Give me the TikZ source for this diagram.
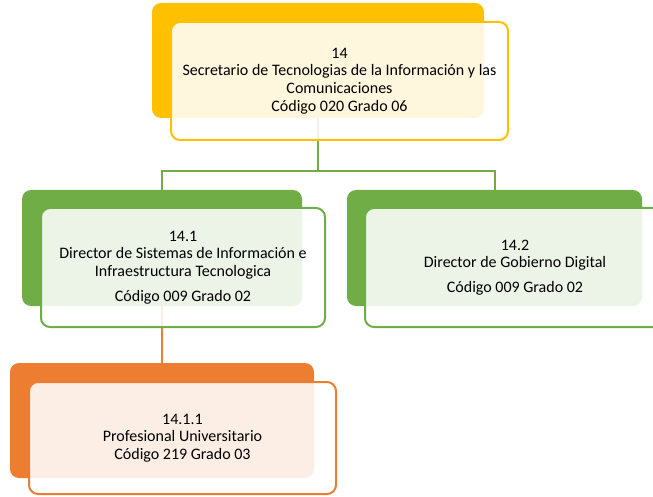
\documentclass[tikz,border=0pt]{standalone}
\usepackage{fontspec}
\setmainfont{Carlito}
\definecolor{cyellow}{HTML}{FFC000}
\definecolor{cgreen}{HTML}{70AD47}
\definecolor{corange}{HTML}{ED7D31}
\tikzset{
  backbox/.style={rounded corners=9pt, inner sep=0pt, draw=none},
  frontbox/.style={rounded corners=9pt, line width=2pt, fill=white, fill opacity=0.87, text opacity=1,
    align=center, inner sep=0pt, font=\fontsize{16}{17.6}\selectfont},
  conn/.style={line width=2pt}
}
\begin{document}
\begin{tikzpicture}[x=1pt,y=-1pt]
\useasboundingbox (0,0) rectangle (653,497);
\clip (0,0) rectangle (653,497);
% back boxes
\node[backbox, fill=cyellow, minimum width=332pt, minimum height=115pt] (topback) at (318,60.5) {};
\node[backbox, fill=cgreen, minimum width=280pt, minimum height=116pt] (leftback) at (162,248) {};
\node[backbox, fill=cgreen, minimum width=295pt, minimum height=116pt] (rightback) at (494.5,248) {};
\node[backbox, fill=corange, minimum width=304pt, minimum height=115pt] (orangeback) at (162,420.5) {};
% connectors
\coordinate (split) at (318,171);
\draw[conn, cgreen] (topback.south) -- (split);
\draw[conn, cgreen] (split) -| (leftback.north);
\draw[conn, cgreen] (split) -| (rightback.north);
\draw[conn, corange] (leftback.south) -- (orangeback.north);
% front boxes
\node[frontbox, draw=cyellow, minimum width=337pt, minimum height=118pt] (top) at (339.5,81)
  {14\\Secretario de Tecnologias de la Información y las\\Comunicaciones\\Código 020 Grado 06};
\node[frontbox, draw=cgreen, minimum width=284pt, minimum height=119pt] (left) at (183,267.5)
  {14.1\\Director de Sistemas de Información e\\Infraestructura Tecnologica\\[7pt]Código 009 Grado 02};
\node[frontbox, draw=cgreen, minimum width=300pt, minimum height=119pt] (right) at (515,267.5)
  {14.2\\Director de Gobierno Digital\\[7pt]Código 009 Grado 02};
\node[frontbox, draw=corange, minimum width=307pt, minimum height=112pt] (prof) at (182.5,438)
  {14.1.1\\Profesional Universitario\\Código 219 Grado 03};
\end{tikzpicture}
\end{document}
